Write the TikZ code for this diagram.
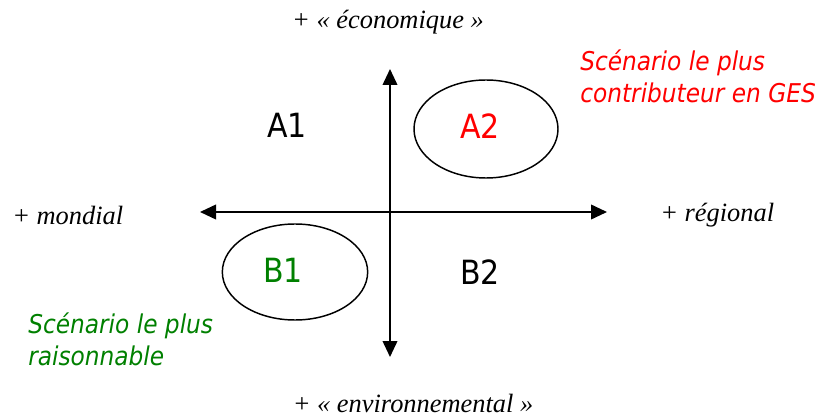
\documentclass[tikz,border=0pt]{standalone}
\usepackage{fontspec}
\setmainfont{Liberation Serif}
\newfontfamily\quadfont{DejaVu Sans Condensed}
\usepackage{tikz}
\usetikzlibrary{shapes.geometric, arrows.meta, positioning}
\tikzset{
	quad/.style={font=\quadfont\fontsize{25}{28}\selectfont, inner sep=0pt},
	axislabel/.style={font=\itshape\fontsize{19.8}{22}\selectfont, inner sep=0pt},
	remark/.style={font=\quadfont\itshape\fontsize{19.4}{24}\selectfont, align=left, inner sep=0pt},
	scen/.style={ellipse, draw, line width=1.1pt},
	axe/.style={{Triangle[length=12pt, width=11pt]}-{Triangle[length=12pt, width=11pt]}, line width=1.3pt}
}
\begin{document}
\begin{tikzpicture}[x=0.75pt, y=0.75pt]
        \useasboundingbox (0, 0) rectangle (821, 418);

        \coordinate (nord) at (390, 349);
        \coordinate (sud) at (390, 61);
        \coordinate (ouest) at (200, 206);
        \coordinate (est) at (607, 206);

        \draw[axe] (sud) -- (nord);
        \draw[axe] (ouest) -- (est);

        \node[scen, minimum width=108pt, minimum height=73.5pt] (a2) at (486, 289) {};
        \node[scen, minimum width=109pt, minimum height=72pt] (b1) at (295, 146) {};

        \node[quad] (a1t) at (287, 293) {A1};
        \node[quad, red] (a2t) at (480, 292) {A2};
        \node[quad, green!50!black] (b1t) at (283, 148) {B1};
        \node[quad] (b2t) at (480, 146) {B2};

        \node[axislabel] (eco) at (388, 396) {+ « économique »};
        \node[axislabel] (env) at (413, 15) {+ « environnemental »};
        \node[axislabel, anchor=west] (mond) at (12, 203) {+ mondial};
        \node[axislabel, anchor=west] (reg) at (660, 203) {+ régional};

        \node[remark, red, anchor=west] (plusges) at (580, 342) {Scénario le plus\\contributeur en GES};
        \node[remark, green!50!black, anchor=west] (plusrais) at (28, 79) {Scénario le plus\\raisonnable};
    \end{tikzpicture}
\end{document}
